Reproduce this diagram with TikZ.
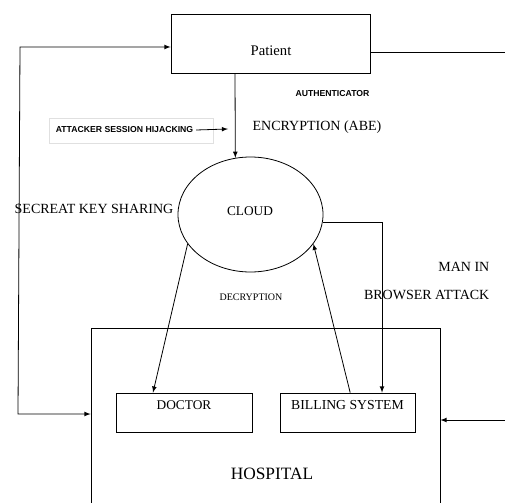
\documentclass[tikz,border=0pt]{standalone}
\usepackage{fontspec}
\setmainfont{Liberation Serif}
\newfontfamily\smallsans{Liberation Sans}
\usetikzlibrary{positioning}
\usetikzlibrary{shapes.geometric}
\tikzset{
  block/.style={draw, rectangle, inner sep=0pt, line width=.6pt},
  line/.style={color=black, line width=.6pt},
  tag/.style={font=\smallsans\bfseries\fontsize{6.5}{7.5}\selectfont}
}
\begin{document}
\begin{tikzpicture}[x=0.75pt, y=-0.75pt, >=latex]
\useasboundingbox (0,0) rectangle (505,502);
\node(patient)[block, minimum width=149.25pt, minimum height=44.25pt] at (270.5,43.5) {};
\node(pt) at (271,51) {\fontsize{11}{13}\selectfont Patient};
\node(cloud)[draw, line width=.6pt, ellipse, minimum width=108.75pt, minimum height=86.25pt] at (250.5,214.5) {};
\node(cl) at (250,211) {\fontsize{10}{12}\selectfont CLOUD};
\node(hosp)[block, minimum width=261.75pt, minimum height=150pt] at (265.5,428) {};
\node(hl) at (272,474) {\fontsize{13}{15}\selectfont HOSPITAL};
\node(doctor)[block, minimum width=102pt, minimum height=29.25pt] at (184,412.5) {};
\node(dl) at (184,405) {\fontsize{10}{12}\selectfont DOCTOR};
\node(billing)[block, minimum width=101.25pt, minimum height=29.25pt] at (347.5,412.5) {};
\node(bl) at (347.5,405) {\fontsize{10.3}{12}\selectfont BILLING SYSTEM};

\node(auth)[tag] at (332.5,94) {AUTHENTICATOR};
\node(attackbox)[draw=black!12, minimum width=123pt, minimum height=18.75pt] at (131,130.5) {};
\node(attack)[tag, inner sep=2pt] at (124.5,130) {ATTACKER SESSION HIJACKING};
\node(enc) at (317,127) {\fontsize{10.5}{12}\selectfont ENCRYPTION (ABE)};
\node(key) at (94,209) {\fontsize{10.5}{12}\selectfont SECREAT KEY\ SHARING};
\node(mitm1)[anchor=east] at (494,267) {\fontsize{10.5}{12}\selectfont MAN IN};
\node(mitm2)[anchor=east] at (494,295) {\fontsize{10.5}{12}\selectfont BROWSER\ ATTACK};
\node(dec) at (251,297) {\fontsize{7.5}{9}\selectfont DECRYPTION};

\coordinate(a1) at (228,129);
\coordinate(p1) at (235,0);
\coordinate(c1) at (382,0);
\coordinate(l1) at (20,47);
\coordinate(l2) at (18,414);
\coordinate(r1) at (505,52);
\coordinate(r2) at (505,420);

\draw[->, line] (attack.east)--(a1);
\draw[->, line] (patient.south -| p1)--(cloud.105);
\draw[line] (patient.east |- r1)--(r1);
\draw[<->, line] (patient.west |- l1)--(l1)--(l2)--(hosp.west |- l2);
\draw[->, line] (cloud.-6)--(cloud.-6 -| c1)--(billing.north -| c1);
\draw[->, line] (cloud.205)--([xshift=-23.25pt]doctor.north);
\draw[->, line] ([xshift=2pt]billing.north)--(cloud.-25);
\draw[->, line] (r2)--(hosp.east |- r2);
\end{tikzpicture}
\end{document}
